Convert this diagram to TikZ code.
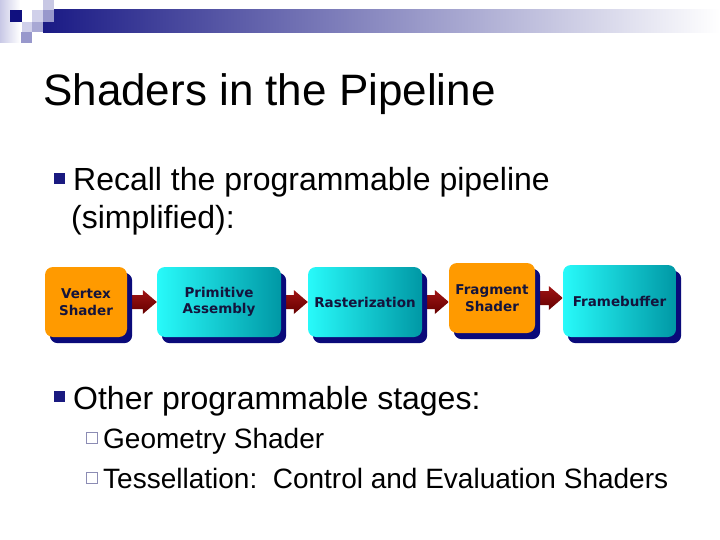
\documentclass[tikz,border=0pt]{standalone}
\usepackage{fontspec}
\setmainfont{Liberation Sans}
\newfontfamily\boxfont{DejaVu Sans}
\usetikzlibrary{calc,backgrounds}
\definecolor{navybar}{RGB}{26,26,133}
\definecolor{barmid}{RGB}{150,150,180}
\definecolor{lav}{RGB}{200,200,230}
\definecolor{sqnavy}{RGB}{16,16,127}
\definecolor{sqlight}{RGB}{208,208,234}
\definecolor{sqmed}{RGB}{152,152,204}
\definecolor{sqtop}{RGB}{200,200,228}
\definecolor{sqmed2}{RGB}{168,168,212}
\definecolor{boxorange}{RGB}{255,154,0}
\definecolor{cyanL}{RGB}{40,250,250}
\definecolor{cyanR}{RGB}{0,152,165}
\definecolor{shadownavy}{RGB}{10,10,122}
\definecolor{arrowtop}{RGB}{160,20,20}
\definecolor{arrowbot}{RGB}{100,0,0}
\definecolor{boxtext}{RGB}{20,20,60}
\definecolor{bulletnavy}{RGB}{26,26,128}
\definecolor{subbullet}{RGB}{140,140,180}
\tikzset{
  stage/.style={rounded corners=8pt, minimum height=70pt, inner sep=2pt,
    align=center, text=boxtext, font=\boxfont\bfseries\fontsize{13.5}{16.5}\selectfont},
  orangestage/.style={stage, fill=boxorange},
  cyanstage/.style={stage, left color=cyanL, right color=cyanR},
  txt/.style={anchor=base west, inner sep=0pt, text=black},
  titletxt/.style={txt, font=\fontsize{44}{52}\selectfont},
  lvlone/.style={txt, font=\fontsize{32}{38}\selectfont},
  lvltwo/.style={txt, font=\fontsize{28}{34}\selectfont},
  mainbullet/.style={fill=bulletnavy, minimum size=10.5pt, inner sep=0pt},
  subbulletbox/.style={draw=subbullet, line width=1.3pt, fill=white, minimum size=11pt, inner sep=0pt},
  shadowfill/.style={fill=shadownavy, rounded corners=8pt},
  arrowfill/.style={top color=arrowtop, bottom color=arrowbot}
}
\newcommand\blockarrow[2]{%
  \path (#1.east) coordinate (s) (#2.west |- #1.east) coordinate (t);
  \path[arrowfill] ($(s)+(0,-7)$) -- ($(t)+(-14,-7)$) -- ($(t)+(-14,-12)$) -- (t)
    -- ($(t)+(-14,12)$) -- ($(t)+(-14,7)$) -- ($(s)+(0,7)$) -- cycle;}
\newcommand\boxshadow[1]{%
  \path[shadowfill] ($(#1.south west)+(5,6)$) rectangle ($(#1.north east)+(5,6)$);}
\begin{document}
\begin{tikzpicture}[x=1pt,y=-1pt]
\useasboundingbox (0,0) rectangle (720,540);
% header decoration
\path[left color=lav, right color=white] (0,0) rectangle (20,43);
\path[left color=navybar, middle color=barmid, right color=white] (43,10) rectangle (720,33);
\fill[sqnavy] (10,10) rectangle (22,22);
\fill[sqlight] (32,10) rectangle (43,22);
\fill[sqtop] (43,0) rectangle (54,10);
\fill[sqmed] (43,10) rectangle (54,22);
\fill[sqlight] (22,22) rectangle (32,32);
\fill[sqmed2] (32,22) rectangle (43,32);
\fill[sqmed] (21,32) rectangle (32,43);
% title
\node[titletxt] (title) at (43,106) {Shaders in the Pipeline};
% bullet 1
\node[mainbullet] (b1) at (59.5,178.5) {};
\node[lvlone] (recall) at (73,191) {Recall the programmable pipeline};
\node[lvlone] (simp) at (71,229) {(simplified):};
% pipeline
\node[orangestage, minimum width=82pt] (vs) at (86,302) {Vertex\\Shader};
\node[cyanstage, minimum width=124pt] (pa) at (219,302) {Primitive\\Assembly};
\node[cyanstage, minimum width=114pt] (ra) at (365,302) {Rasterization};
\node[orangestage, minimum width=86pt] (fs) at (492,298) {Fragment\\Shader};
\node[cyanstage, minimum width=113pt, minimum height=72pt] (fb) at (619.5,301) {Framebuffer};
\begin{scope}[on background layer]
  \blockarrow{vs}{pa}
  \blockarrow{pa}{ra}
  \blockarrow{ra}{fs}
  \blockarrow{fs}{fb}
  \boxshadow{vs}
  \boxshadow{pa}
  \boxshadow{ra}
  \boxshadow{fs}
  \boxshadow{fb}
\end{scope}
% bullet 2
\node[mainbullet] (b2) at (59.5,396.5) {};
\node[lvlone] (other) at (73,409) {Other programmable stages:};
\node[subbulletbox] (s1) at (92,438) {};
\node[lvltwo] (geo) at (103,448) {Geometry Shader};
\node[subbulletbox] (s2) at (92,478) {};
\node[lvltwo] (tess) at (103,488) {Tessellation:\ \ Control and Evaluation Shaders};
\end{tikzpicture}
\end{document}
